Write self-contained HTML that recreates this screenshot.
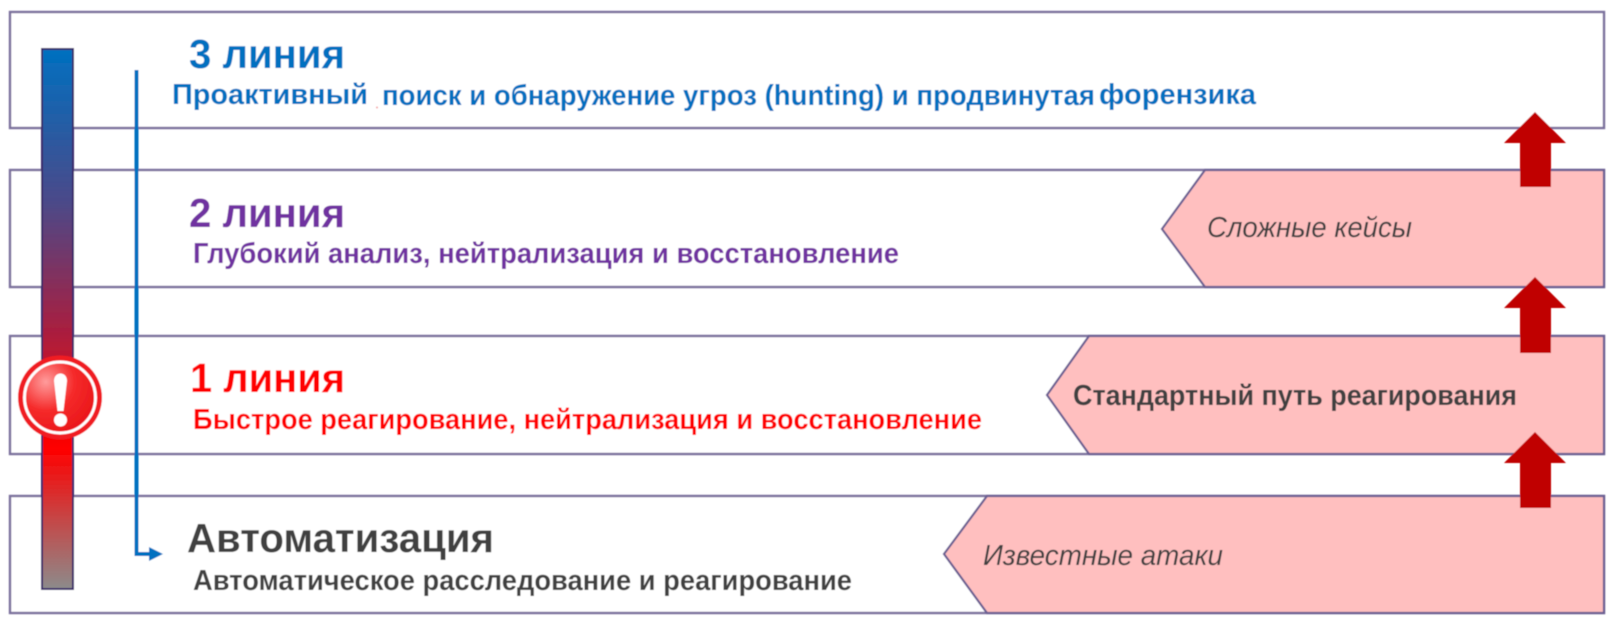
<!DOCTYPE html>
<html lang="ru">
<head>
<meta charset="utf-8">
<title>Линии реагирования</title>
<style>
html,body{margin:0;padding:0;background:#fff;width:1615px;height:633px;overflow:hidden}
svg{display:block}
text{font-family:"Liberation Sans","DejaVu Sans",sans-serif;font-weight:bold}
.h{font-size:41px}
.s{font-size:29px}
.i{font-size:29px;font-weight:normal;font-style:italic;fill:#404040}
</style>
</head>
<body>
<svg xmlns="http://www.w3.org/2000/svg" width="1615" height="633" viewBox="0 0 1615 633">
<defs>
<linearGradient id="bar" x1="0" y1="0" x2="0" y2="1">
<stop offset="0" stop-color="#0070c0"/>
<stop offset="0.28" stop-color="#4a4a8a"/>
<stop offset="0.52" stop-color="#a81f40"/>
<stop offset="0.74" stop-color="#ff0000"/>
<stop offset="1" stop-color="#8c8c8c"/>
</linearGradient>
<radialGradient id="ball" cx="0.3" cy="0.28" r="0.9">
<stop offset="0" stop-color="#ff9c9c"/>
<stop offset="0.45" stop-color="#f52a2a"/>
<stop offset="1" stop-color="#e60f14"/>
</radialGradient>
<filter id="soft" x="-2%" y="-2%" width="104%" height="104%"><feGaussianBlur stdDeviation="0.55"/></filter>
</defs>
<g filter="url(#soft)">
<g fill="#fff" stroke="#7a6f9c" stroke-width="2.4">
<rect x="10" y="12" width="1594" height="116"/>
<rect x="10" y="170" width="1594" height="117"/>
<rect x="10" y="336" width="1594" height="118"/>
<rect x="10" y="496" width="1594" height="117"/>
</g>
<g fill="#ffbfbf" stroke="#6b5f92" stroke-width="2.2">
<polygon points="1205,170 1604,170 1604,287 1205,287 1162,229"/>
<polygon points="1089,336 1604,336 1604,454 1089,454 1047,395"/>
<polygon points="987,496 1604,496 1604,613 987,613 944,554"/>
</g>
<rect x="42" y="49" width="31" height="540" fill="url(#bar)" stroke="#3b2b6b" stroke-width="2"/>
<path d="M136.500 70V554H152" fill="none" stroke="#0070c0" stroke-width="4"/>
<polygon points="149,547 163,554 149,561" fill="#0070c0"/>
<g fill="#c00000">
<polygon points="1535,112 1566,143 1551,143 1551,187 1520,187 1520,143 1504,143"/>
<polygon points="1535,277 1566,308 1551,308 1551,353 1520,353 1520,308 1504,308"/>
<polygon points="1535,432 1566,463 1551,463 1551,508 1520,508 1520,463 1504,463"/>
</g>
<circle cx="60" cy="397.500" r="42" fill="#f01c22"/>
<circle cx="60" cy="397.500" r="35.500" fill="url(#ball)" stroke="#fff" stroke-width="3"/>
<path d="M54 381C54 371 67 371 67 381L63.500 411H57.500Z" fill="#fff"/>
<circle cx="60.500" cy="420" r="6.500" fill="#fff"/>
<circle cx="377" cy="107.500" r="1" fill="#f4a0a0"/>
<text class="h" x="189" y="68" fill="#0070c0" textLength="156" lengthAdjust="spacingAndGlyphs">3 линия</text>
<text class="s" x="172" y="104" fill="#0070c0" textLength="196" lengthAdjust="spacingAndGlyphs">Проактивный</text>
<text class="s" x="382" y="105" fill="#0070c0" textLength="713" lengthAdjust="spacingAndGlyphs">поиск и обнаружение угроз (hunting) и продвинутая</text>
<text class="s" x="1099" y="104" fill="#0070c0" textLength="157" lengthAdjust="spacingAndGlyphs">форензика</text>
<text class="h" x="189" y="227" fill="#7030a0" textLength="156" lengthAdjust="spacingAndGlyphs">2 линия</text>
<text class="s" x="193" y="263" fill="#7030a0" textLength="706" lengthAdjust="spacingAndGlyphs">Глубокий анализ, нейтрализация и восстановление</text>
<text class="h" x="190" y="392" fill="#ff0000" textLength="155" lengthAdjust="spacingAndGlyphs">1 линия</text>
<text class="s" x="193" y="429" fill="#ff0000" textLength="789" lengthAdjust="spacingAndGlyphs">Быстрое реагирование, нейтрализация и восстановление</text>
<text class="h" x="187" y="552" fill="#404040" textLength="307" lengthAdjust="spacingAndGlyphs">Автоматизация</text>
<text class="s" x="193" y="590" fill="#404040" textLength="659" lengthAdjust="spacingAndGlyphs">Автоматическое расследование и реагирование</text>
<text class="i" x="1207" y="237" textLength="205" lengthAdjust="spacingAndGlyphs">Сложные кейсы</text>
<text class="s" x="1073" y="405" fill="#404040" textLength="444" lengthAdjust="spacingAndGlyphs">Стандартный путь реагирования</text>
<text class="i" x="983" y="565" textLength="240" lengthAdjust="spacingAndGlyphs">Известные атаки</text>
</g>
</svg>
</body>
</html>
